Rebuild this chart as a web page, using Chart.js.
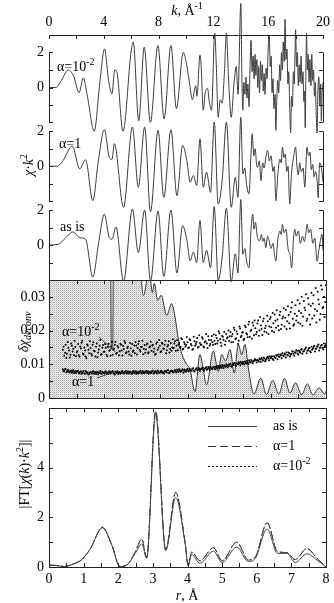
<!DOCTYPE html>
<html><head><meta charset="utf-8">
<script src="https://cdn.jsdelivr.net/npm/chart.js@4.4.1/dist/chart.umd.min.js"></script>
<style>
html,body{margin:0;padding:0;background:#fff;}
#wrap{position:relative;width:334px;height:603px;background:#fff;}
canvas{position:absolute;left:0;top:0;}
</style></head><body>
<div id="wrap">
<canvas id="c1" width="334" height="603"></canvas>
<canvas id="c2" width="334" height="603"></canvas>
<canvas id="c3" width="334" height="603"></canvas>
</div>
<script>
// ---------------- DATA: top panel, chi(k)*k^2 ----------------
const kAlpha2 = [0,0.5,0.9,1.4,1.8,2.2,2.5,2.8,3.3,3.7,4.05,4.35,4.6,4.8,4.95,5.4,6.0,6.15,6.55,6.95,7.4,7.95,8.4,8.9,9.3,9.8,10.0,10.23,10.47,10.6,10.71,10.8,11.02,11.1,11.26,11.4,11.57,11.7,11.86,12.1,12.2,12.35,12.5,12.64,12.8,12.95,13.1,13.3,13.5,13.67,13.8,14.0,
 14.08,14.15,14.22,14.3,14.38,14.45,14.52,14.6,14.68,14.75,14.82,14.9,14.97,15.04,15.1,15.17,15.24,15.3,15.37,15.44,15.5,15.57,15.64,15.7,15.77,15.85,15.92,16.0,16.08,16.15,16.22,16.28,16.35,16.42,16.5,16.56,16.63,16.7,16.77,16.84,16.9,16.97,17.04,17.1,17.17,17.23,17.3,17.37,17.44,17.5,17.57,17.64,17.7,17.77,17.84,17.9,17.96,18.0,18.07,18.13,18.2,18.27,18.33,18.4,18.47,18.54,18.6,18.66,18.7,18.75,18.8,18.86,18.92,18.98,19.05,19.12,19.18,19.25,19.31,19.38,19.44,19.5,19.57,19.63,19.7,19.77,19.83,19.88,19.94,20.0];
const chiAlpha2 = [0,0,0.4,1.0,0.65,-0.3,0.55,-0.5,-2.5,0.2,2.2,0.4,-0.35,1.0,0.9,-2.5,2.1,2.6,-1.9,2.3,-2.0,2.4,-1.8,2.4,-1.2,2.0,1.5,0.4,-0.7,-0.2,0.1,-0.5,1.85,1.3,-1.3,-0.3,-0.05,-0.8,-1.3,3.1,1.5,-1.7,-0.7,-0.9,0.8,3.1,0.6,-1.7,0.2,1.2,-0.4,4.8,
 0.6,-1.3,0.3,-0.4,0.6,-0.6,0.2,-1.1,1.4,2.7,0.9,1.8,0.5,1.9,0.7,1.6,0.0,1.2,-0.3,1.5,0.4,1.3,-0.2,0.8,-0.4,1.1,0.5,2.2,3.0,1.2,1.8,-0.3,0.5,-1.2,-0.4,-2.45,-0.6,0.4,-0.3,1.3,0.4,2.0,1.0,2.6,1.5,3.9,1.6,2.2,0.2,0.9,-1.2,-2.6,-0.5,-1.1,0.9,0.2,2.0,3.3,1.2,2.0,0.1,1.3,0.3,1.8,0.2,0.9,-0.8,-0.2,-2.3,0.8,3.1,1.0,1.9,0.3,1.6,0.1,1.9,0.4,1.0,-0.5,0.3,-1.4,-2.6,-0.2,0.6,-1.0,0.2,-1.9,-0.2,0.3];

const kAlpha1 = [0,0.6,1.0,1.7,2.24,2.67,3.2,3.6,4.04,4.4,4.6,4.77,5.44,6.09,6.52,6.98,7.41,7.96,8.38,8.9,9.34,9.75,10.06,10.3,10.54,10.78,11.02,11.26,11.5,11.79,12.06,12.35,12.64,12.95,13.3,13.6,13.79,14.0,14.15,14.3,14.4,14.6,14.75,14.83,14.95,15.05,15.15,15.23,15.35,15.47,15.6,15.7,15.85,15.96,16.08,16.2,16.35,16.45,16.56,16.7,16.85,16.95,17.04,17.15,17.25,17.35,17.45,17.57,17.7,17.85,18.0,18.1,18.2,18.3,18.42,18.55,18.67,18.83,18.95,19.05,19.15,19.25,19.35,19.45,19.57,19.65,19.75,19.88,20.0];
const chiAlpha1 = [0,0,0.3,1.15,-0.15,0.37,-1.97,0.3,2.09,0.52,0.4,1.29,-2.35,2.24,-1.2,2.24,-2.6,2.05,-1.78,2.09,-1.68,1.19,0.33,-0.92,-0.53,-1.1,1.57,-1.2,-0.34,-1.49,2.52,-2.16,-0.82,2.52,-2.35,-0.63,-1.78,2.8,-0.44,-0.1,-0.92,-1.58,0.8,1.86,0.6,1.0,0.1,-0.06,0.3,-0.82,0.2,-0.1,0.6,0.9,0.3,0.6,-0.3,0.0,-1.97,-0.5,0.4,0.2,1.09,0.5,0.7,-0.3,0.0,-2.16,-0.4,0.5,1.09,0.0,-0.5,0.2,-0.3,-0.1,-1.2,1.09,0.6,0.8,-0.2,0.1,-0.6,-0.3,-0.82,-1.8,0.2,-0.06,-0.9];

const kAsIs = [0,0.67,1.2,1.76,2.24,2.67,3.2,3.6,4.04,4.4,4.6,4.89,5.44,6.09,6.52,6.98,7.41,7.96,8.38,8.9,9.34,9.75,10.06,10.3,10.54,10.78,11.02,11.26,11.5,11.79,12.06,12.35,12.64,12.95,13.3,13.6,13.79,14.0,14.15,14.3,14.4,14.6,14.75,14.87,14.97,15.07,15.2,15.36,15.5,15.6,15.7,15.83,15.95,16.05,16.2,16.35,16.45,16.56,16.7,16.85,16.95,17.04,17.15,17.3,17.45,17.6,17.71,17.85,17.95,18.05,18.2,18.35,18.5,18.65,18.75,18.85,18.95,19.1,19.25,19.4,19.57,19.7,19.8,19.93,20.0];
const chiAsIs = [0,0.04,0.4,0.75,0.42,0.33,-1.84,0.0,1.76,0.42,0.33,1.03,-2.07,2.05,-0.44,2.0,-2.07,1.95,-1.8,2.0,-1.6,1.1,0.3,-0.9,-0.4,-1.0,1.4,-1.0,-0.3,-1.3,2.2,-2.0,-0.7,2.1,-2.1,-0.5,-1.6,2.6,-0.53,-0.2,-0.82,-1.3,0.9,1.76,0.9,1.3,0.5,0.23,0.6,0.2,0.4,-0.15,0.5,0.3,-0.2,0.1,-0.5,-0.92,0.3,0.8,0.6,1.19,0.7,0.9,-0.2,-0.6,-1.3,0.4,0.9,0.5,0.8,0.1,0.5,0.2,0.7,1.19,0.7,0.9,0.1,0.4,-0.92,-0.3,0.2,0.61,-0.3];

const stackOffsets = [9, 4.5, 0];      // vertical shift of the three chi*k^2 curves
const topTickLabels = ['0', '2'];      // labels at 0 and 2 of every sub-axis

// ---------------- DATA: middle panel, delta chi ----------------
const kDev = [0,4.4,4.46,4.5,4.6,4.64,4.7,6.55,6.69,6.83,7.05,7.15,7.3,7.46,7.6,7.85,8.1,8.5,8.85,9.1,9.34,9.6,9.94,10.18,10.54,10.9,11.1,11.38,11.86,12.22,12.47,12.75,13.07,13.38,13.67,13.91,14.15,14.39,14.8,15.3,15.7,16.15,16.6,17.0,17.4,17.8,18.25,18.65,19.05,19.5,19.9,20.0];
const devAsIs = [0.06,0.06,0.04,0.0145,0.0145,0.04,0.06,0.06,0.035,0.0304,0.0348,0.037,0.036,0.0313,0.034,0.029,0.0305,0.0245,0.028,0.024,0.0175,0.013,0.010,0.0085,0.0019,0.0129,0.0095,0.0039,0.0139,0.0079,0.0129,0.0110,0.0144,0.0074,0.0159,0.0129,0.0159,0.0089,0.0012,0.0059,0.0010,0.0052,0.0012,0.0058,0.0015,0.0045,0.0010,0.0042,0.0009,0.0030,0.0012,0.0020];

const kDotStart = 1.0, kDotStartB = 1.05, kDotStep = 0.1;
const dotsAlpha2 = [
 0.0143,0.0125,0.0158,0.0131,0.0149,0.0120,0.0162,0.0138,0.0127,0.0151,
 0.0135,0.0160,0.0122,0.0147,0.0170,0.0129,0.0141,0.0118,0.0156,0.0133,
 0.0148,0.0126,0.0165,0.0139,0.0152,0.0121,0.0144,0.0172,0.0130,0.0157,
 0.0137,0.0149,0.0124,0.0161,0.0142,0.0153,0.0128,0.0146,0.0167,0.0134,
 0.0150,0.0139,0.0158,0.0126,0.0145,0.0163,0.0136,0.0152,0.0129,0.0147,
 0.0160,0.0141,0.0133,0.0155,0.0148,0.0168,0.0138,0.0151,0.0130,0.0157,
 0.0144,0.0162,0.0136,0.0153,0.0140,0.0158,0.0147,0.0131,0.0165,0.0149,
 0.0155,0.0139,0.0161,0.0146,0.0170,0.0142,0.0157,0.0135,0.0163,0.0150,
 0.0148,0.0168,0.0155,0.0142,0.0163,0.0151,0.0174,0.0146,0.0160,0.0157,
 0.0165,0.0150,0.0172,0.0156,0.0145,0.0168,0.0160,0.0178,0.0152,0.0163,
 0.0158,0.0176,0.0150,0.0168,0.0162,0.0183,0.0155,0.0172,0.0165,0.0188,
 0.0160,0.0178,0.0170,0.0192,0.0164,0.0184,0.0173,0.0158,0.0190,0.0180,
 0.0170,0.0196,0.0183,0.0166,0.0202,0.0177,0.0190,0.0170,0.0206,0.0185,
 0.0195,0.0176,0.0210,0.0188,0.0218,0.0182,0.0202,0.0224,0.0186,0.0207,
 0.0196,0.0230,0.0200,0.0215,0.0187,0.0236,0.0207,0.0194,0.0228,0.0212,
 0.0240,0.0199,0.0222,0.0248,0.0208,0.0233,0.0201,0.0256,0.0217,0.0242,
 0.0212,0.0262,0.0228,0.0246,0.0206,0.0268,0.0235,0.0219,0.0275,0.0243,
 0.0224,0.0280,0.0252,0.0214,0.0288,0.0260,0.0229,0.0296,0.0247,0.0273,
 0.0236,0.0305,0.0263,0.0224,0.0315,0.0278,0.0249,0.0322,0.0270,0.0240,
 0.0335];
const dotsAlpha2b = [
 0.0152,0.0134,0.0119,0.0166,0.0141,0.0128,0.0155,0.0146,0.0170,0.0124,
 0.0139,0.0127,0.0153,0.0164,0.0132,0.0150,0.0123,0.0159,0.0143,0.0168,
 0.0131,0.0158,0.0140,0.0123,0.0162,0.0135,0.0155,0.0128,0.0149,0.0137,
 0.0160,0.0128,0.0151,0.0140,0.0125,0.0166,0.0143,0.0158,0.0131,0.0154,
 0.0127,0.0161,0.0141,0.0154,0.0169,0.0133,0.0148,0.0138,0.0163,0.0125,
 0.0137,0.0156,0.0166,0.0129,0.0160,0.0143,0.0152,0.0170,0.0145,0.0134,
 0.0159,0.0133,0.0150,0.0167,0.0156,0.0137,0.0128,0.0161,0.0143,0.0172,
 0.0136,0.0164,0.0147,0.0158,0.0133,0.0153,0.0168,0.0145,0.0140,0.0174,
 0.0162,0.0140,0.0171,0.0158,0.0150,0.0177,0.0144,0.0165,0.0152,0.0181,
 0.0148,0.0174,0.0160,0.0143,0.0182,0.0155,0.0166,0.0150,0.0186,0.0158,
 0.0180,0.0153,0.0165,0.0190,0.0148,0.0172,0.0160,0.0184,0.0157,0.0170,
 0.0186,0.0162,0.0198,0.0175,0.0155,0.0182,0.0196,0.0168,0.0177,0.0200,
 0.0183,0.0165,0.0190,0.0208,0.0175,0.0197,0.0160,0.0212,0.0181,0.0194,
 0.0172,0.0214,0.0192,0.0180,0.0226,0.0199,0.0176,0.0215,0.0230,0.0189,
 0.0221,0.0185,0.0240,0.0205,0.0228,0.0197,0.0214,0.0244,0.0190,0.0234,
 0.0210,0.0252,0.0195,0.0229,0.0260,0.0214,0.0246,0.0205,0.0236,0.0266,
 0.0238,0.0205,0.0272,0.0222,0.0255,0.0284,0.0214,0.0250,0.0230,0.0290,
 0.0258,0.0220,0.0300,0.0242,0.0268,0.0308,0.0235,0.0278,0.0218,0.0312,
 0.0280,0.0245,0.0326,0.0258,0.0292,0.0232,0.0334,0.0266,0.0300,0.0285];
const dotsAlpha1 = [
 0.0085,0.0080,0.0087,0.0078,0.0082,0.0076,0.0081,0.0079,0.0074,0.0080,
 0.0077,0.0081,0.0073,0.0079,0.0075,0.0080,0.0072,0.0078,0.0076,0.0071,
 0.0077,0.0073,0.0079,0.0075,0.0071,0.0078,0.0074,0.0080,0.0072,0.0076,
 0.0073,0.0079,0.0075,0.0071,0.0077,0.0074,0.0080,0.0072,0.0078,0.0075,
 0.0071,0.0077,0.0074,0.0080,0.0073,0.0076,0.0072,0.0079,0.0075,0.0077,
 0.0073,0.0080,0.0076,0.0072,0.0078,0.0075,0.0081,0.0073,0.0077,0.0074,
 0.0080,0.0075,0.0072,0.0078,0.0076,0.0081,0.0074,0.0079,0.0073,0.0077,
 0.0075,0.0081,0.0077,0.0073,0.0079,0.0076,0.0082,0.0074,0.0078,0.0080,
 0.0077,0.0083,0.0076,0.0080,0.0085,0.0078,0.0082,0.0075,0.0084,0.0080,
 0.0086,0.0079,0.0083,0.0081,0.0088,0.0078,0.0085,0.0082,0.0089,0.0080,
 0.0086,0.0090,0.0081,0.0088,0.0084,0.0092,0.0083,0.0089,0.0086,0.0093,
 0.0085,0.0091,0.0096,0.0088,0.0093,0.0098,0.0089,0.0095,0.0100,0.0091,
 0.0096,0.0101,0.0093,0.0098,0.0104,0.0095,0.0101,0.0106,0.0097,0.0103,
 0.0107,0.0099,0.0104,0.0110,0.0101,0.0107,0.0113,0.0103,0.0110,0.0115,
 0.0105,0.0111,0.0117,0.0107,0.0114,0.0120,0.0109,0.0116,0.0122,0.0112,
 0.0118,0.0124,0.0113,0.0121,0.0127,0.0115,0.0123,0.0130,0.0118,0.0126,
 0.0132,0.0120,0.0128,0.0135,0.0123,0.0131,0.0138,0.0125,0.0134,0.0140,
 0.0128,0.0137,0.0143,0.0131,0.0139,0.0146,0.0133,0.0142,0.0148,0.0136,
 0.0143,0.0151,0.0138,0.0147,0.0154,0.0141,0.0150,0.0157,0.0144,0.0153,
 0.0160];
const dotsAlpha1b = [
 0.0079,0.0084,0.0076,0.0083,0.0078,0.0081,0.0075,0.0082,0.0077,0.0074,
 0.0080,0.0075,0.0078,0.0072,0.0077,0.0073,0.0079,0.0074,0.0070,0.0076,
 0.0074,0.0078,0.0072,0.0077,0.0075,0.0070,0.0076,0.0073,0.0078,0.0074,
 0.0077,0.0072,0.0076,0.0079,0.0073,0.0078,0.0075,0.0070,0.0076,0.0079,
 0.0075,0.0072,0.0078,0.0074,0.0077,0.0080,0.0075,0.0073,0.0078,0.0072,
 0.0077,0.0074,0.0079,0.0076,0.0073,0.0078,0.0075,0.0080,0.0074,0.0078,
 0.0076,0.0079,0.0077,0.0074,0.0080,0.0073,0.0078,0.0076,0.0081,0.0075,
 0.0079,0.0076,0.0074,0.0080,0.0077,0.0082,0.0075,0.0079,0.0081,0.0076,
 0.0081,0.0078,0.0084,0.0077,0.0082,0.0079,0.0085,0.0081,0.0078,0.0083,
 0.0080,0.0086,0.0082,0.0087,0.0081,0.0084,0.0088,0.0083,0.0086,0.0085,
 0.0089,0.0084,0.0087,0.0091,0.0086,0.0089,0.0093,0.0087,0.0091,0.0089,
 0.0093,0.0088,0.0092,0.0095,0.0090,0.0094,0.0097,0.0092,0.0096,0.0099,
 0.0099,0.0094,0.0100,0.0102,0.0097,0.0103,0.0100,0.0104,0.0107,0.0101,
 0.0103,0.0108,0.0102,0.0106,0.0112,0.0105,0.0110,0.0108,0.0114,0.0111,
 0.0113,0.0108,0.0114,0.0119,0.0111,0.0117,0.0113,0.0120,0.0118,0.0124,
 0.0121,0.0116,0.0124,0.0119,0.0125,0.0129,0.0122,0.0127,0.0133,0.0124,
 0.0129,0.0136,0.0126,0.0133,0.0128,0.0139,0.0131,0.0136,0.0142,0.0132,
 0.0140,0.0134,0.0145,0.0138,0.0143,0.0150,0.0140,0.0147,0.0139,0.0152,
 0.0147,0.0155,0.0145,0.0152,0.0159,0.0149,0.0156,0.0148,0.0162,0.0155];
const midTickLabels = [0, 0.01, 0.02, 0.03];

// ---------------- DATA: bottom panel, |FT| ----------------
const rFT = [0,0.2,0.45,0.7,0.95,1.2,1.54,1.81,2.05,2.25,2.49,2.68,2.82,3.08,3.37,3.66,3.93,4.02,4.12,4.36,4.75,5.0,5.42,5.76,5.96,6.3,6.6,6.87,7.11,7.45,7.74,8.0];
const ftAsIs   = [0.08,0.06,0.02,0.12,0.3,0.75,1.58,0.9,0.02,0.08,0.55,0.93,0.35,6.15,0.65,2.8,0.95,0.05,0.5,0.15,0.64,0.18,0.8,0.22,0.35,1.53,0.55,0.55,0.18,0.53,0.28,0.0];
const ftAlpha1 = [0.08,0.06,0.02,0.12,0.3,0.75,1.6,0.9,0.02,0.08,0.6,1.13,0.38,6.3,0.7,3.0,1.0,0.07,0.6,0.25,0.78,0.25,1.0,0.28,0.4,1.78,0.62,0.58,0.3,0.75,0.35,0.0];
const ftAlpha2 = [0.08,0.06,0.02,0.12,0.3,0.75,1.6,0.9,0.02,0.08,0.6,1.12,0.38,6.25,0.7,3.0,1.0,0.07,0.6,0.25,0.77,0.25,1.0,0.28,0.4,1.78,0.62,0.58,0.3,0.74,0.35,0.0];
const ftLegend = ['as is', 'α=1', 'α=10'];

// ---------------- helpers ----------------
const F = '"Liberation Serif", "Times New Roman", serif';
const N14 = '14px ' + F, I14 = 'italic 14px ' + F, S10 = '10px ' + F, I10 = 'italic 10px ' + F;
function zip(xs, ys, off) { const n = Math.min(xs.length, ys.length), o = []; for (let i = 0; i < n; i++) o.push({x: xs[i], y: ys[i] + (off || 0)}); return o; }
function gridPts(start, step, ys) { return ys.map((v, i) => ({x: +(start + i * step).toFixed(3), y: v})); }
const P = v => Math.round(v) + 0.5;
function seg(ctx, x1, y1, x2, y2) { ctx.beginPath(); ctx.moveTo(x1, y1); ctx.lineTo(x2, y2); ctx.stroke(); }
function richW(ctx, parts) { let w = 0; for (const p of parts) { ctx.font = p.f; w += ctx.measureText(p.t).width; } return w; }
function rich(ctx, parts, x, y, align) {
  const w = richW(ctx, parts); let cx = align === 'center' ? x - w / 2 : (align === 'right' ? x - w : x);
  ctx.textAlign = 'left'; ctx.textBaseline = 'alphabetic';
  for (const p of parts) { ctx.font = p.f; ctx.fillText(p.t, cx, y + (p.dy || 0)); cx += ctx.measureText(p.t).width; }
}
function richRot(ctx, parts, cx, cy) { ctx.save(); ctx.translate(cx, cy); ctx.rotate(-Math.PI / 2); rich(ctx, parts, 0, 0, 'center'); ctx.restore(); }
const TL = 4;
function boxFrame(ctx, a, xs, ys, xStep, yStep) {
  ctx.strokeRect(P(a.left), P(a.top), Math.round(a.right) - Math.round(a.left), Math.round(a.bottom) - Math.round(a.top));
  for (let v = xs.min; v <= xs.max + 1e-9; v += xStep) { const px = P(xs.getPixelForValue(v)); seg(ctx, px, a.top, px, a.top + TL); seg(ctx, px, a.bottom, px, a.bottom - TL); }
  for (let v = ys.min; v <= ys.max + 1e-9; v += yStep) { const py = P(ys.getPixelForValue(v)); seg(ctx, a.left, py, a.left + TL, py); seg(ctx, a.right, py, a.right - TL, py); }
}
const baseOpts = (pad) => ({
  responsive: false, animation: false, devicePixelRatio: 1, events: [],
  layout: {padding: pad},
  plugins: {legend: {display: false}, tooltip: {enabled: false}}
});
const tickFont = {family: F, size: 14};

// ---------------- top panel ----------------
const lineStyle = {borderColor: '#3c3c3c', borderWidth: 1, pointRadius: 0, cubicInterpolationMode: 'monotone', clip: false, fill: false};
new Chart(document.getElementById('c1'), {
  type: 'line',
  data: {datasets: [
    Object.assign({data: zip(kAlpha2, chiAlpha2, stackOffsets[0])}, lineStyle),
    Object.assign({data: zip(kAlpha1, chiAlpha1, stackOffsets[1])}, lineStyle),
    Object.assign({data: zip(kAsIs, chiAsIs, stackOffsets[2])}, lineStyle)
  ]},
  options: Object.assign(baseOpts({top: 0, left: 0, right: 8, bottom: 323}), {
    scales: {
      x: {type: 'linear', position: 'top', min: 0, max: 20, grid: {display: false, drawTicks: false}, border: {display: false},
          ticks: {stepSize: 4, padding: 4, font: tickFont, color: '#000', maxRotation: 0, autoSkip: false},
          afterFit(s) { s.height = 35; }},
      y: {type: 'linear', min: -2, max: 12, grid: {display: false, drawTicks: false}, border: {display: false},
          ticks: {stepSize: 0.5, maxTicksLimit: 100, autoSkip: false, padding: 5, font: tickFont, color: '#000',
                  callback(v) { for (const o of stackOffsets) { if (Math.abs(v - o) < 1e-6) return topTickLabels[0]; if (Math.abs(v - o - 2) < 1e-6) return topTickLabels[1]; } return ''; }},
          afterFit(s) { s.width = 49; }}
    }
  }),
  plugins: [{id: 'topFrame', afterDraw(chart) {
    const {ctx, chartArea: a, scales: {x, y}} = chart;
    ctx.save(); ctx.strokeStyle = '#222'; ctx.lineWidth = 1; ctx.fillStyle = '#000';
    seg(ctx, a.left, P(a.top), a.right + 0.5, P(a.top));
    for (let v = 0; v <= 20; v += 2) { const px = P(x.getPixelForValue(v)); seg(ctx, px, a.top, px, a.top + TL); }
    for (const o of stackOffsets) {
      const y1 = P(y.getPixelForValue(o + 2)), y2 = P(y.getPixelForValue(o - 2));
      seg(ctx, P(a.left), y1, P(a.left), y2); seg(ctx, P(a.right), y1, P(a.right), y2);
      for (let j = -2; j <= 2; j++) { const py = P(y.getPixelForValue(o + j)); seg(ctx, a.left, py, a.left + TL, py); seg(ctx, a.right, py, a.right - TL, py); }
    }
    rich(ctx, [{t: 'k', f: I14}, {t: ', Å', f: N14}, {t: '-1', f: S10, dy: -6}], 187, 15, 'center');
    rich(ctx, [{t: 'α=10', f: N14}, {t: '-2', f: S10, dy: -6}], 57, 71, 'left');
    rich(ctx, [{t: 'α=1', f: N14}], 59, 148, 'left');
    rich(ctx, [{t: 'as is', f: N14}], 60, 231, 'left');
    richRot(ctx, [{t: 'χ', f: I14}, {t: '·', f: N14}, {t: 'k', f: I14}, {t: '2', f: S10, dy: -6}], 33, 165);
    ctx.restore();
  }}]
});

// ---------------- middle panel ----------------
const c2 = document.getElementById('c2');
const pc = document.createElement('canvas'); pc.width = 2; pc.height = 2;
const pcx = pc.getContext('2d');
pcx.fillStyle = '#f0f0f0'; pcx.fillRect(0, 0, 2, 2);
pcx.fillStyle = '#a6a6a6'; pcx.fillRect(0, 0, 1, 1);
pcx.fillStyle = '#d2d2d2'; pcx.fillRect(1, 1, 1, 1);
const stipple = c2.getContext('2d').createPattern(pc, 'repeat');
const dotStyle = {showLine: false, pointRadius: 1, pointBackgroundColor: '#000', pointBorderWidth: 0, borderWidth: 0, clip: 0};
new Chart(c2, {
  type: 'line',
  data: {datasets: [
    Object.assign({data: gridPts(kDotStart, kDotStep, dotsAlpha2)}, dotStyle),
    Object.assign({data: gridPts(kDotStartB, kDotStep, dotsAlpha2b)}, dotStyle),
    Object.assign({data: gridPts(kDotStart, kDotStep, dotsAlpha1)}, dotStyle),
    Object.assign({data: gridPts(kDotStartB, kDotStep, dotsAlpha1b)}, dotStyle),
    {data: zip(kDev, devAsIs), borderColor: '#333', borderWidth: 1, pointRadius: 0, cubicInterpolationMode: 'monotone', fill: 'start', backgroundColor: stipple, clip: 0}
  ]},
  options: Object.assign(baseOpts({top: 280, left: 0, right: 8, bottom: 205}), {
    scales: {
      x: {type: 'linear', display: false, min: 0, max: 20},
      y: {type: 'linear', min: 0, max: 0.035, grid: {display: false, drawTicks: false}, border: {display: false},
          ticks: {stepSize: 0.005, maxTicksLimit: 100, autoSkip: false, padding: 4, font: tickFont, color: '#000',
                  callback(v) { const r = Math.round(v * 1000) / 1000; return midTickLabels.some(m => Math.abs(m - r) < 1e-9) ? (r === 0 ? '0' : String(r)) : ''; }},
          afterFit(s) { s.width = 49; }}
    }
  }),
  plugins: [{id: 'midFrame', afterDraw(chart) {
    const {ctx, chartArea: a, scales: {x, y}} = chart;
    ctx.save(); ctx.strokeStyle = '#222'; ctx.lineWidth = 1; ctx.fillStyle = '#000';
    boxFrame(ctx, a, x, y, 2, 0.005);
    rich(ctx, [{t: 'α=10', f: N14}, {t: '-2', f: S10, dy: -6}], 62, 336, 'left');
    rich(ctx, [{t: 'α=1', f: N14}], 72, 386, 'left');
    ctx.strokeStyle = '#444';
    seg(ctx, 99, 337, x.getPixelForValue(4.8), y.getPixelForValue(0.0136));
    seg(ctx, 97, 378, x.getPixelForValue(4.8), y.getPixelForValue(0.0079));
    richRot(ctx, [{t: 'δχ', f: I14}, {t: 'deconv', f: I10, dy: 3}], 28, 332);
    ctx.restore();
  }}]
});

// ---------------- bottom panel ----------------
const ftStyles = [
  {borderColor: '#444', borderDash: []},
  {borderColor: '#333', borderDash: [8, 4]},
  {borderColor: '#222', borderDash: [2, 2]}
];
new Chart(document.getElementById('c3'), {
  type: 'line',
  data: {datasets: [
    Object.assign({data: zip(rFT, ftAsIs), borderWidth: 1, pointRadius: 0, cubicInterpolationMode: 'monotone', fill: false}, ftStyles[0]),
    Object.assign({data: zip(rFT, ftAlpha1), borderWidth: 1, pointRadius: 0, cubicInterpolationMode: 'monotone', fill: false}, ftStyles[1]),
    Object.assign({data: zip(rFT, ftAlpha2), borderWidth: 1, pointRadius: 0, cubicInterpolationMode: 'monotone', fill: false}, ftStyles[2])
  ]},
  options: Object.assign(baseOpts({top: 408, left: 0, right: 8, bottom: 0}), {
    scales: {
      x: {type: 'linear', position: 'bottom', min: 0, max: 8, grid: {display: false, drawTicks: false}, border: {display: false},
          ticks: {stepSize: 1, padding: 4, font: tickFont, color: '#000', maxRotation: 0, autoSkip: false},
          afterFit(s) { s.height = 36; }},
      y: {type: 'linear', min: 0, max: 6.4, grid: {display: false, drawTicks: false}, border: {display: false},
          ticks: {stepSize: 1, autoSkip: false, padding: 5, font: tickFont, color: '#000',
                  callback(v) { return (Math.abs(v % 2) < 1e-9) ? String(v) : ''; }},
          afterFit(s) { s.width = 49; }}
    }
  }),
  plugins: [{id: 'botFrame', afterDraw(chart) {
    const {ctx, chartArea: a, scales: {x, y}} = chart;
    ctx.save(); ctx.strokeStyle = '#222'; ctx.lineWidth = 1; ctx.fillStyle = '#000';
    boxFrame(ctx, a, x, y, 0.5, 1);
    const ly = [426, 446, 466];
    ftStyles.forEach((s, i) => {
      ctx.save(); ctx.strokeStyle = s.borderColor; ctx.setLineDash(s.borderDash); seg(ctx, 208, P(ly[i]), 257, P(ly[i])); ctx.restore();
    });
    rich(ctx, [{t: ftLegend[0], f: N14}], 273, 430, 'left');
    rich(ctx, [{t: ftLegend[1], f: N14}], 273, 450, 'left');
    rich(ctx, [{t: ftLegend[2], f: N14}, {t: '-2', f: S10, dy: -6}], 273, 470, 'left');
    rich(ctx, [{t: 'r', f: I14}, {t: ', Å', f: N14}], 187, 600, 'center');
    richRot(ctx, [{t: '|FT[', f: N14}, {t: 'χ', f: I14}, {t: '(', f: N14}, {t: 'k', f: I14}, {t: ')·', f: N14}, {t: 'k', f: I14}, {t: '2', f: S10, dy: -6}, {t: ']|', f: N14}], 29, 474);
    ctx.restore();
  }}]
});
</script>
</body></html>
